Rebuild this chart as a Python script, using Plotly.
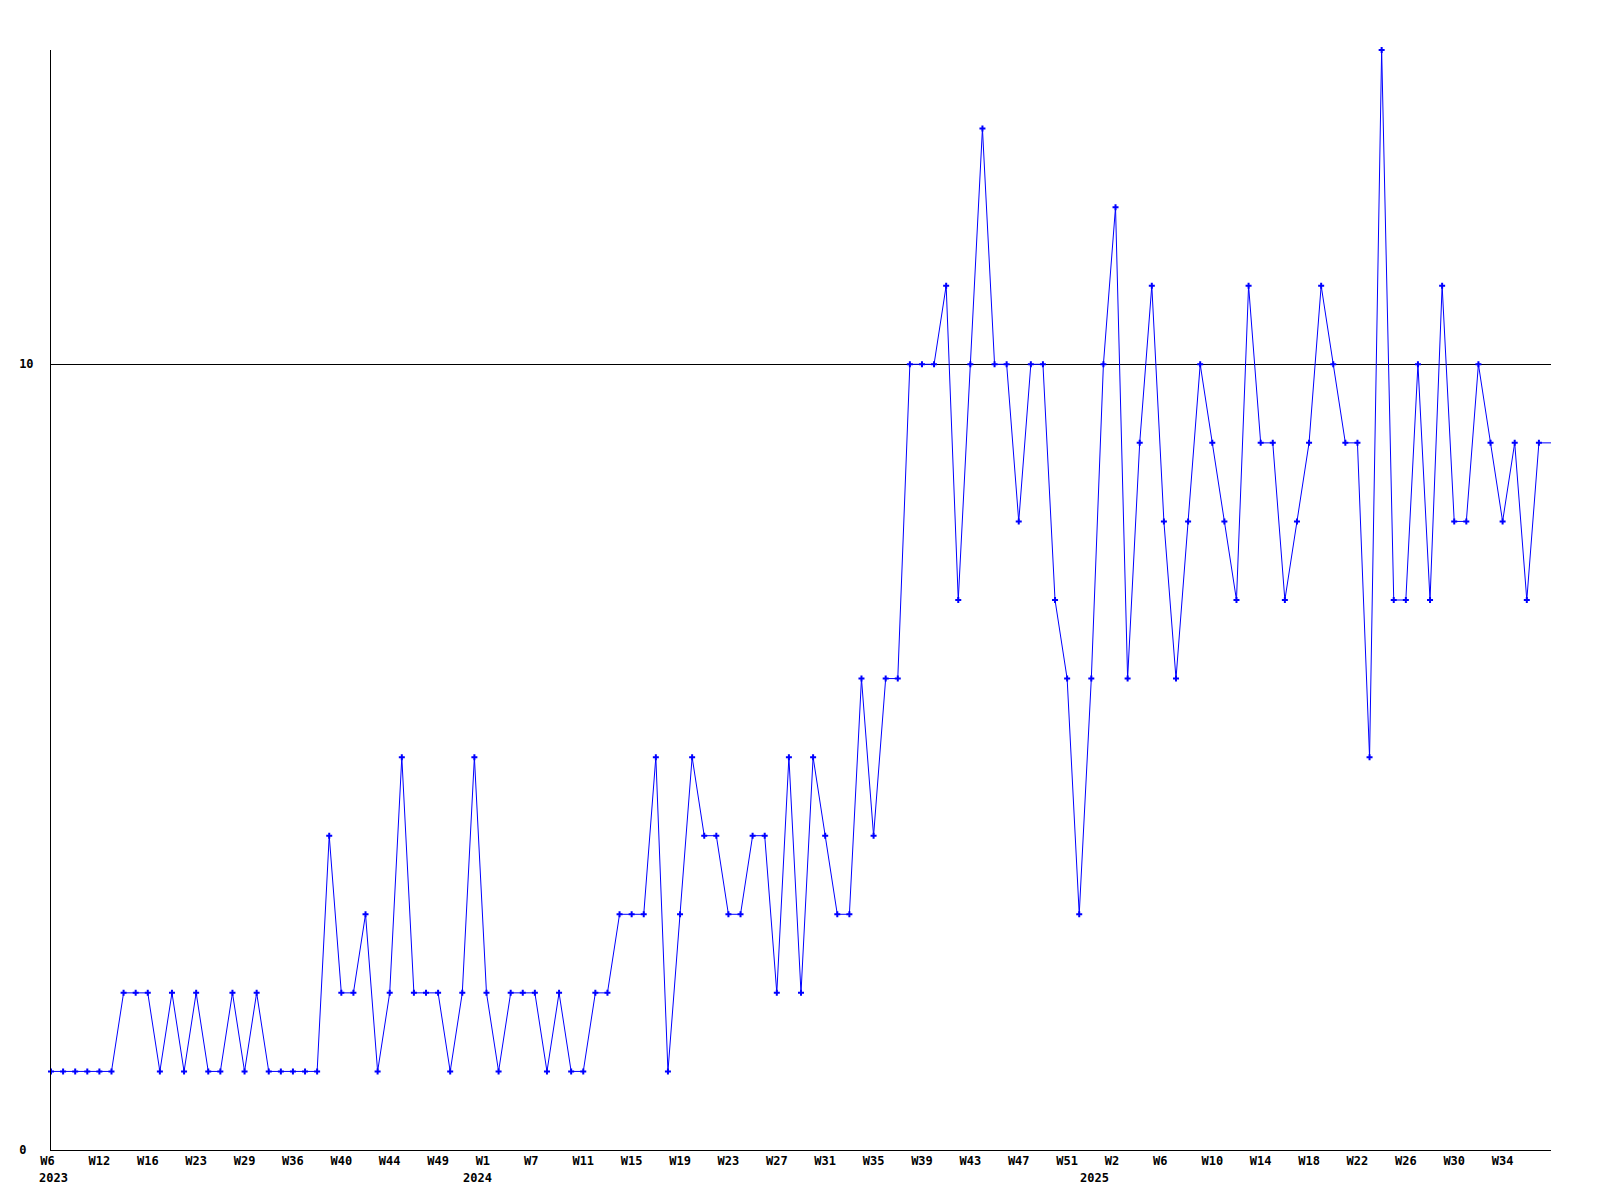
import plotly.graph_objects as go

# Weekly values, one per point, left to right
values = [
    1, 1, 1, 1, 1, 1, 2, 2, 2, 1,
    2, 1, 2, 1, 1, 2, 1, 2, 1, 1,
    1, 1, 1, 4, 2, 2, 3, 1, 2, 5,
    2, 2, 2, 1, 2, 5, 2, 1, 2, 2,
    2, 1, 2, 1, 1, 2, 2, 3, 3, 3,
    5, 1, 3, 5, 4, 4, 3, 3, 4, 4,
    2, 5, 2, 5, 4, 3, 3, 6, 4, 6,
    6, 10, 10, 10, 11, 7, 10, 13, 10, 10,
    8, 10, 10, 7, 6, 3, 6, 10, 12, 6,
    9, 11, 8, 6, 8, 10, 9, 8, 7, 11,
    9, 9, 7, 8, 9, 11, 10, 9, 9, 5,
    14, 7, 7, 10, 7, 11, 8, 8, 10, 9,
    8, 9, 7, 9,
]

# Week tick labels and the point index they sit on
week_tick_pos = [0, 4, 8, 12, 16, 20, 24, 28, 32, 36,
                 40, 44, 48, 52, 56, 60, 64, 68, 72, 76,
                 80, 84, 88, 92, 96, 100, 104, 108, 112, 116, 120]
week_tick_labels = ["W6", "W12", "W16", "W23", "W29", "W36", "W40", "W44", "W49", "W1",
                    "W7", "W11", "W15", "W19", "W23", "W27", "W31", "W35", "W39", "W43",
                    "W47", "W51", "W2", "W6", "W10", "W14", "W18", "W22", "W26", "W30", "W34"]

# Year labels and their point index
year_pos = [0, 35, 86]
year_labels = ["2023", "2024", "2025"]

# Y ticks
y_tick_vals = [0, 10]
y_tick_labels = ["0", "10"]

FONT = dict(family="DejaVu Sans Mono", size=12, color="black", weight="bold")
CHAR_W = 7.2

n = len(values)
xs = list(range(n))
x_end = n  # plot extends one step past the last point

fig = go.Figure()

# continuation of last value to the right edge
fig.add_trace(go.Scatter(
    x=[xs[-1], x_end], y=[values[-1], values[-1]],
    mode="lines", line=dict(color="#0000ff", width=1),
    hoverinfo="skip", showlegend=False,
))

fig.add_trace(go.Scatter(
    x=xs, y=values, mode="lines+markers",
    line=dict(color="#0000ff", width=1),
    marker=dict(symbol="cross", size=5, color="#0000ff", line=dict(width=0)),
    cliponaxis=False, showlegend=False,
))

# pad tick labels so they align like the original
pad = lambda s, w: s + "\u00a0" * max(0, w - len(s))

fig.update_xaxes(
    range=[0, x_end],
    showline=True, linecolor="black", linewidth=1,
    showgrid=False, zeroline=False, ticks="",
    tickmode="array", tickvals=week_tick_pos,
    ticktext=[pad(t, 3) for t in week_tick_labels],
    tickfont=FONT, tickangle=0,
)

y_max = max(values)
fig.update_yaxes(
    range=[0, y_max],
    showline=True, linecolor="black", linewidth=1,
    showgrid=True, gridcolor="black", gridwidth=1,
    zeroline=False, ticks="",
    tickmode="array", tickvals=y_tick_vals,
    ticktext=[pad(t, 2) for t in y_tick_labels],
    tickfont=FONT, ticklabelstandoff=14,
)

for p, t in zip(year_pos, year_labels):
    fig.add_annotation(
        x=p, y=0, xref="x", yref="paper",
        text=t, showarrow=False, font=FONT,
        xanchor="left", yanchor="top",
        xshift=-1.5 * CHAR_W - 3, yshift=-19,
    )

# page body has an 8px margin; size the figure to fit the window
fig.update_layout(
    width=1584, height=1184,
    margin=dict(l=43, r=41, t=42, b=42),
    paper_bgcolor="white", plot_bgcolor="white",
    showlegend=False,
)

fig.write_html("out.html")
